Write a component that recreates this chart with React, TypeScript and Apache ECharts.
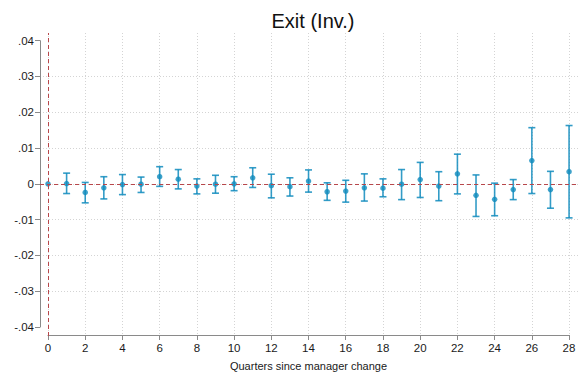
import React, { useEffect, useRef } from "react";
import * as echarts from "echarts";

const quarters = [0, 1, 2, 3, 4, 5, 6, 7, 8, 9, 10, 11, 12, 13, 14, 15, 16, 17, 18, 19, 20, 21, 22, 23, 24, 25, 26, 27, 28];
const estimates = [0, 0.0001, -0.0024, -0.0011, -0.0002, -0.0001, 0.002, 0.0013, -0.0006, -0.0001, 0.0, 0.0017, -0.0005, -0.0008, 0.0008, -0.0022, -0.002, -0.0011, -0.0012, -0.0001, 0.0012, -0.0006, 0.0028, -0.0032, -0.0043, -0.0016, 0.0065, -0.0016, 0.0034];
const ciLow = [null, -0.0027, -0.0053, -0.0042, -0.003, -0.0024, -0.0007, -0.0014, -0.0028, -0.0026, -0.0019, -0.001, -0.0039, -0.0034, -0.0023, -0.0046, -0.0051, -0.0048, -0.0036, -0.0044, -0.0038, -0.0047, -0.0028, -0.0091, -0.0089, -0.0044, -0.0027, -0.0068, -0.0095];
const ciHigh = [null, 0.003, 0.0004, 0.002, 0.0026, 0.0019, 0.0048, 0.004, 0.0014, 0.0024, 0.002, 0.0045, 0.0027, 0.0017, 0.0039, 0.0003, 0.001, 0.0028, 0.0014, 0.004, 0.006, 0.0034, 0.0083, 0.0025, 0.0002, 0.0012, 0.0157, 0.0035, 0.0163];
const yTicks = [-0.04, -0.03, -0.02, -0.01, 0, 0.01, 0.02, 0.03, 0.04];

const FONT = "'Liberation Sans', Arial, sans-serif";
const BLUE = "#0f8bbd";
const RED = "#b8474b";
const GRID = "#d4d4d4";
const AXIS = "#8a8a8a";

function fmt(v: number): string {
  if (Math.abs(v) < 1e-9) return "0";
  const s = (Math.round(v * 100) / 100).toFixed(2);
  return s.replace(/^(-?)0\./, "$1.");
}

export default function App() {
  const ref = useRef<HTMLDivElement>(null);
  useEffect(() => {
    if (!ref.current) return;
    const chart = echarts.init(ref.current, undefined, { renderer: "svg" });
    const ciData = quarters
      .map((q, i) => [q, ciLow[i], ciHigh[i]])
      .filter((d) => d[1] !== null && d[2] !== null);
    const option: any = {
      animation: false,
      backgroundColor: "#ffffff",
      title: {
        text: "Exit (Inv.)",
        left: 308,
        top: 6,
        textAlign: "center",
        textStyle: { fontFamily: FONT, fontSize: 20, fontWeight: "normal", color: "#111" },
      },
      grid: [
        { left: 40, right: 5, top: 33, bottom: 40 },
        { left: 48, right: 14, top: 33, bottom: 40 },
        { left: 40, right: 5, top: 40.7, bottom: 49 },
        { left: 40, right: 5, top: 76.5, bottom: 85 },
      ],
      xAxis: [
        { gridIndex: 0, type: "value", min: -0.43, max: 28.48, show: false },
        {
          gridIndex: 1,
          type: "value",
          min: 0,
          max: 28,
          interval: 2,
          name: "Quarters since manager change",
          nameLocation: "middle",
          nameGap: 25,
          nameTextStyle: { fontFamily: FONT, fontSize: 11, color: "#1a1a1a" },
          axisLine: { show: true, onZero: false, lineStyle: { color: AXIS, width: 1 } },
          axisTick: { show: true, length: 5, lineStyle: { color: AXIS } },
          axisLabel: { fontFamily: FONT, fontSize: 11.5, color: "#1a1a1a", margin: 7 },
          splitLine: { show: true, lineStyle: { color: GRID, type: [1, 2], width: 1 } },
        },
        { gridIndex: 2, type: "value", min: 0, max: 1, show: false },
        { gridIndex: 3, type: "value", min: 0, max: 1, show: false },
      ],
      yAxis: [
        { gridIndex: 0, type: "value", min: -0.0425, max: 0.04215, show: false },
        { gridIndex: 1, type: "value", min: 0, max: 1, show: false },
        {
          gridIndex: 2,
          type: "value",
          min: yTicks[0],
          max: yTicks[yTicks.length - 1],
          interval: 0.01,
          axisLine: { show: true, onZero: false, lineStyle: { color: AXIS, width: 1 } },
          axisTick: { show: true, length: 5, lineStyle: { color: AXIS } },
          axisLabel: { fontFamily: FONT, fontSize: 11.5, color: "#1a1a1a", margin: 6, formatter: (v: number) => fmt(v) },
          splitLine: { show: false },
        },
        {
          gridIndex: 3,
          type: "value",
          min: yTicks[1],
          max: yTicks[yTicks.length - 2],
          interval: 0.01,
          axisLine: { show: false },
          axisTick: { show: false },
          axisLabel: { show: false },
          splitLine: { show: true, lineStyle: { color: GRID, type: [1, 2], width: 1 } },
        },
      ],
      series: [
        {
          type: "custom",
          xAxisIndex: 0,
          yAxisIndex: 0,
          data: ciData,
          z: 3,
          renderItem: (params: any, api: any) => {
            const x = api.value(0);
            const lo = api.coord([x, api.value(1)]);
            const hi = api.coord([x, api.value(2)]);
            const w = 3.5;
            const style = { stroke: BLUE, lineWidth: 1.6, opacity: 0.85 };
            return {
              type: "group",
              children: [
                { type: "line", shape: { x1: lo[0], y1: lo[1], x2: hi[0], y2: hi[1] }, style },
                { type: "line", shape: { x1: lo[0] - w, y1: lo[1], x2: lo[0] + w, y2: lo[1] }, style },
                { type: "line", shape: { x1: hi[0] - w, y1: hi[1], x2: hi[0] + w, y2: hi[1] }, style },
              ],
            };
          },
        },
        {
          type: "scatter",
          xAxisIndex: 0,
          yAxisIndex: 0,
          data: quarters.map((q, i) => [q, estimates[i]]),
          symbol: "circle",
          symbolSize: 5.5,
          itemStyle: { color: BLUE },
          z: 4,
          markLine: {
            silent: true,
            symbol: "none",
            label: { show: false },
            lineStyle: { color: RED, type: [4, 3], width: 1 },
            data: [{ xAxis: 0 }, { yAxis: 0 }],
          },
        },
      ],
    };
    chart.setOption(option);
    return () => chart.dispose();
  }, []);
  return <div ref={ref} style={{ position: "absolute", left: 0, top: 0, width: 583, height: 376 }} />;
}
